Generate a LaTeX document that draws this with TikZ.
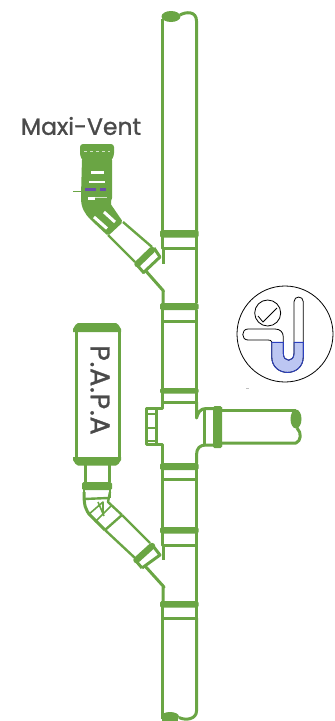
\documentclass[tikz,border=0pt]{standalone}
\usepackage{fontspec}
\setmainfont{Poppins}
\newfontfamily\maxifont[FakeBold=1.2]{Poppins}
\newfontfamily\papafont[FakeBold=1.2,LetterSpace=3]{Poppins}
\definecolor{pipegreen}{HTML}{6AA544}
\definecolor{labelgrey}{HTML}{4A4A4A}
\definecolor{waterfill}{HTML}{BCC6F2}
\definecolor{waterline}{HTML}{2B3FBF}
\definecolor{ventpurple}{HTML}{6B4FA8}
\tikzset{
  pipeline/.style={draw=pipegreen,line width=3pt,line join=round},
  thinpipe/.style={draw=pipegreen,line width=2.4pt,line join=round},
  bandfill/.style={fill=pipegreen,rounded corners=1.5pt},
  iconline/.style={draw=black,line width=0.8pt,line join=round},
  slot/.style={fill=white},
  textlabel/.style={text=labelgrey,inner sep=0pt}
}
\begin{document}
\begin{tikzpicture}[x=1pt,y=-1pt]
\useasboundingbox (0,0) rectangle (335,721);
% main pipe upper run
\draw[pipeline] (162.5,19) -- (162.5,232);
\draw[pipeline] (180,15) .. controls (186,11.5) and (196.5,11) .. (196.5,21) -- (196.5,232);
\fill[pipegreen] (171,16.5) ellipse (9.5 and 5.5);
% collars
\foreach \bt/\bb/\lo in {230/237.5/248, 388/393.5/402, 463/470/479, 527/533.5/545, 601/607.5/618}{
  \draw[pipeline] (162.5,\bt) -- (162.5,\lo) -- (196.5,\lo) -- (196.5,\bt);
  \fill[bandfill] (160,\bt) rectangle (198.5,\bb);
}
\fill[bandfill] (160,303) rectangle (198.5,310);
\draw[pipeline] (162.5,310) -- (162.5,321) -- (196.5,321) -- (196.5,310);
% pipe runs between collars
\draw[pipeline] (196.5,248) -- (196.5,303);
\draw[pipeline] (163,248) -- (163,264);
\draw[pipeline] (162.5,321) -- (162.5,388);
\draw[pipeline] (196.5,321) -- (196.5,388);
% lower run
\draw[pipeline] (162.5,479) -- (162.5,527);
\draw[pipeline] (196.5,479) -- (196.5,527);
\draw[pipeline] (196.5,545) -- (196.5,601);
\draw[pipeline] (163,545) -- (163,560);
\draw[pipeline] (162.5,618) -- (162.5,719);
\draw[pipeline] (196.5,618) -- (196.5,711) .. controls (196.5,719) and (186,721) .. (179,717.5);
\fill[pipegreen] (170,716.5) ellipse (9 and 4.5);
\fill[pipegreen] (161.5,716) rectangle (178,720.5);
% upper branch
\draw[pipeline] (145,270) -- (163.5,291) -- (163,291) -- (163,303);
\draw[thinpipe] (123,222) -- (152,247);
\draw[thinpipe] (108,235) -- (135,262);
\draw[line width=6.5pt,draw=pipegreen,line cap=round] (137.5,264) -- (152,250);
\draw[pipeline] (143,273) -- (160,257) -- (154,248);
\draw[pipeline] (137,265) -- (144,273);
% lower branch
\draw[pipeline] (145,566) -- (164,587) -- (163,587) -- (163,601);
\draw[thinpipe] (122,515) -- (150,543);
\draw[thinpipe] (105,530) -- (135,558);
\draw[thinpipe] (105,530) -- (122,515);
\draw[line width=6.5pt,draw=pipegreen,line cap=round] (136.5,560) -- (152,546);
\draw[pipeline] (142,568) -- (160,555) -- (153,546);
\draw[pipeline] (136,561) -- (142,568);
% lower elbow
\draw[pipeline] (84,492) .. controls (84,505) and (85,510) .. (91,516) -- (105,530);
\draw[thinpipe] (110,492) -- (108,502) -- (122,515);
\draw[thinpipe] (84,499) -- (108,498);
\draw[thinpipe,line width=1.6pt] (88,515) -- (103,502) -- (103,515);
\draw[thinpipe,line width=1.6pt] (95,522) -- (112,505);
\draw[thinpipe,line width=1.6pt] (98,502) -- (104,516);
\fill[bandfill] (82,482) rectangle (112,490);
\draw[thinpipe] (84,490) -- (84,498);
\draw[thinpipe] (110,490) -- (110,498);
% P.A.P.A body
\draw[pipeline] (76,330) rectangle (119,459);
\fill[pipegreen] (73,332) -- (73,329) .. controls (75,326) and (76,323) .. (78,323) -- (116,323) .. controls (118,323) and (119,326) .. (121,329) -- (121,332) -- cycle;
\fill[pipegreen] (73,457) -- (73,460) .. controls (75,463) and (76,465.5) .. (78,465.5) -- (116,465.5) .. controls (118,465.5) and (119,463) .. (121,460) -- (121,457) -- cycle;
\draw[pipeline] (85,465) -- (85,482);
\draw[pipeline] (109,465) -- (109,482);
\node[textlabel,rotate=-90,font=\papafont\fontsize{27}{27}\selectfont] (papa) at (100,390) {P.A.P.A};
% tee
\draw[pipeline] (162.5,402) -- (162.5,408.5) -- (146,408.5) -- (146,444.5) -- (162.5,444.5) -- (162.5,463);
\draw[thinpipe] (146,414) -- (157,414);
\draw[thinpipe] (146,428) -- (157,428);
\draw[thinpipe] (146,441) -- (157,441);
\draw[thinpipe] (156.5,408.5) -- (156.5,444.5);
\draw[pipeline] (196.5,402) -- (196.5,418) .. controls (198,413) and (200,408.5) .. (206,408.5) -- (222,408.5);
\draw[pipeline] (196.5,463) -- (196.5,455) .. controls (196.5,448) and (200,445) .. (206,445) -- (222,445);
\draw[pipeline] (204.5,408.5) -- (204.5,445);
\fill[bandfill] (213,406) rectangle (222,448);
% side pipe
\draw[pipeline] (222,410.5) -- (296,410.5);
\draw[pipeline] (222,443) -- (296,443) .. controls (301,441) and (302,433) .. (297,428);
\fill[pipegreen] (296,419) ellipse (5.5 and 9.5);
% Maxi-Vent device
\fill[pipegreen,rounded corners=3pt] (80,144) -- (114,144) -- (114,156) -- (111,161) -- (83,161) -- (80,156) -- cycle;
\fill[pipegreen,rounded corners=2pt] (82,158) -- (112,158) -- (112,200) -- (110,203) -- (123,222) -- (108,236) -- (92,221) .. controls (85,214) and (81,208) .. (81,196) -- cycle;
\fill[slot] (91,171) rectangle (104,174);
\fill[slot] (89,181) rectangle (105,183);
\fill[ventpurple] (85,188) rectangle (96,191);
\fill[ventpurple] (100,188) rectangle (106,191);
\fill[slot] (88,197) rectangle (95,199.5);
\draw[white!70!pipegreen,line width=0.8pt] (95,197) -- (107,197);
\draw[pipegreen,line width=0.8pt] (73,191) -- (84,191);
\draw[white,line width=3pt] (94,217) -- (107,228.5);
\draw[white,line width=3pt] (104,212) -- (115,222);
\draw[white!70!pipegreen,line width=0.6pt,dashed] (84,151) -- (110,151);
% trap icon
\draw[iconline] (285,334) circle (48);
\draw[iconline] (267.7,313) circle (13);
\draw[iconline] (258,316) -- (263,322) -- (277,308);
\path[fill=waterfill] (271.7,342.3) -- (283.3,342.3) -- (283.3,353.3) .. controls (283.3,362.5) and (294,362.5) .. (294,353.3) -- (294,342.3) -- (303.3,342.3) -- (303.3,356.7) .. controls (303.3,377.7) and (271.7,377.7) .. (271.7,356.7) -- cycle;
\draw[iconline] (248,329) -- (275,329) .. controls (280,329) and (283.3,332) .. (283.3,337) -- (283.3,353.3) .. controls (283.3,362.5) and (294,362.5) .. (294,353.3) -- (294,301.7) .. controls (294,295.5) and (303.3,295.5) .. (303.3,301.7) -- (303.3,356.7) .. controls (303.3,377.7) and (271.7,377.7) .. (271.7,356.7) -- (271.7,342) .. controls (271.7,340.5) and (270,340) .. (268,340) -- (248,340) .. controls (241,340) and (241,329) .. (248,329) -- cycle;
\draw[draw=waterline,line width=0.9pt] (271.7,342.3) -- (283.3,342.3) -- (283.3,353.3) .. controls (283.3,362.5) and (294,362.5) .. (294,353.3) -- (294,342.3) -- (303.3,342.3) -- (303.3,356.7) .. controls (303.3,377.7) and (271.7,377.7) .. (271.7,356.7) -- cycle;
% speck
\draw[black!25,line width=0.5pt] (246,388) -- (249,388);
% label
\node[textlabel,font=\maxifont\fontsize{23.5}{24}\selectfont] (maxi) at (81,126) {Maxi-Vent};
\end{tikzpicture}
\end{document}
